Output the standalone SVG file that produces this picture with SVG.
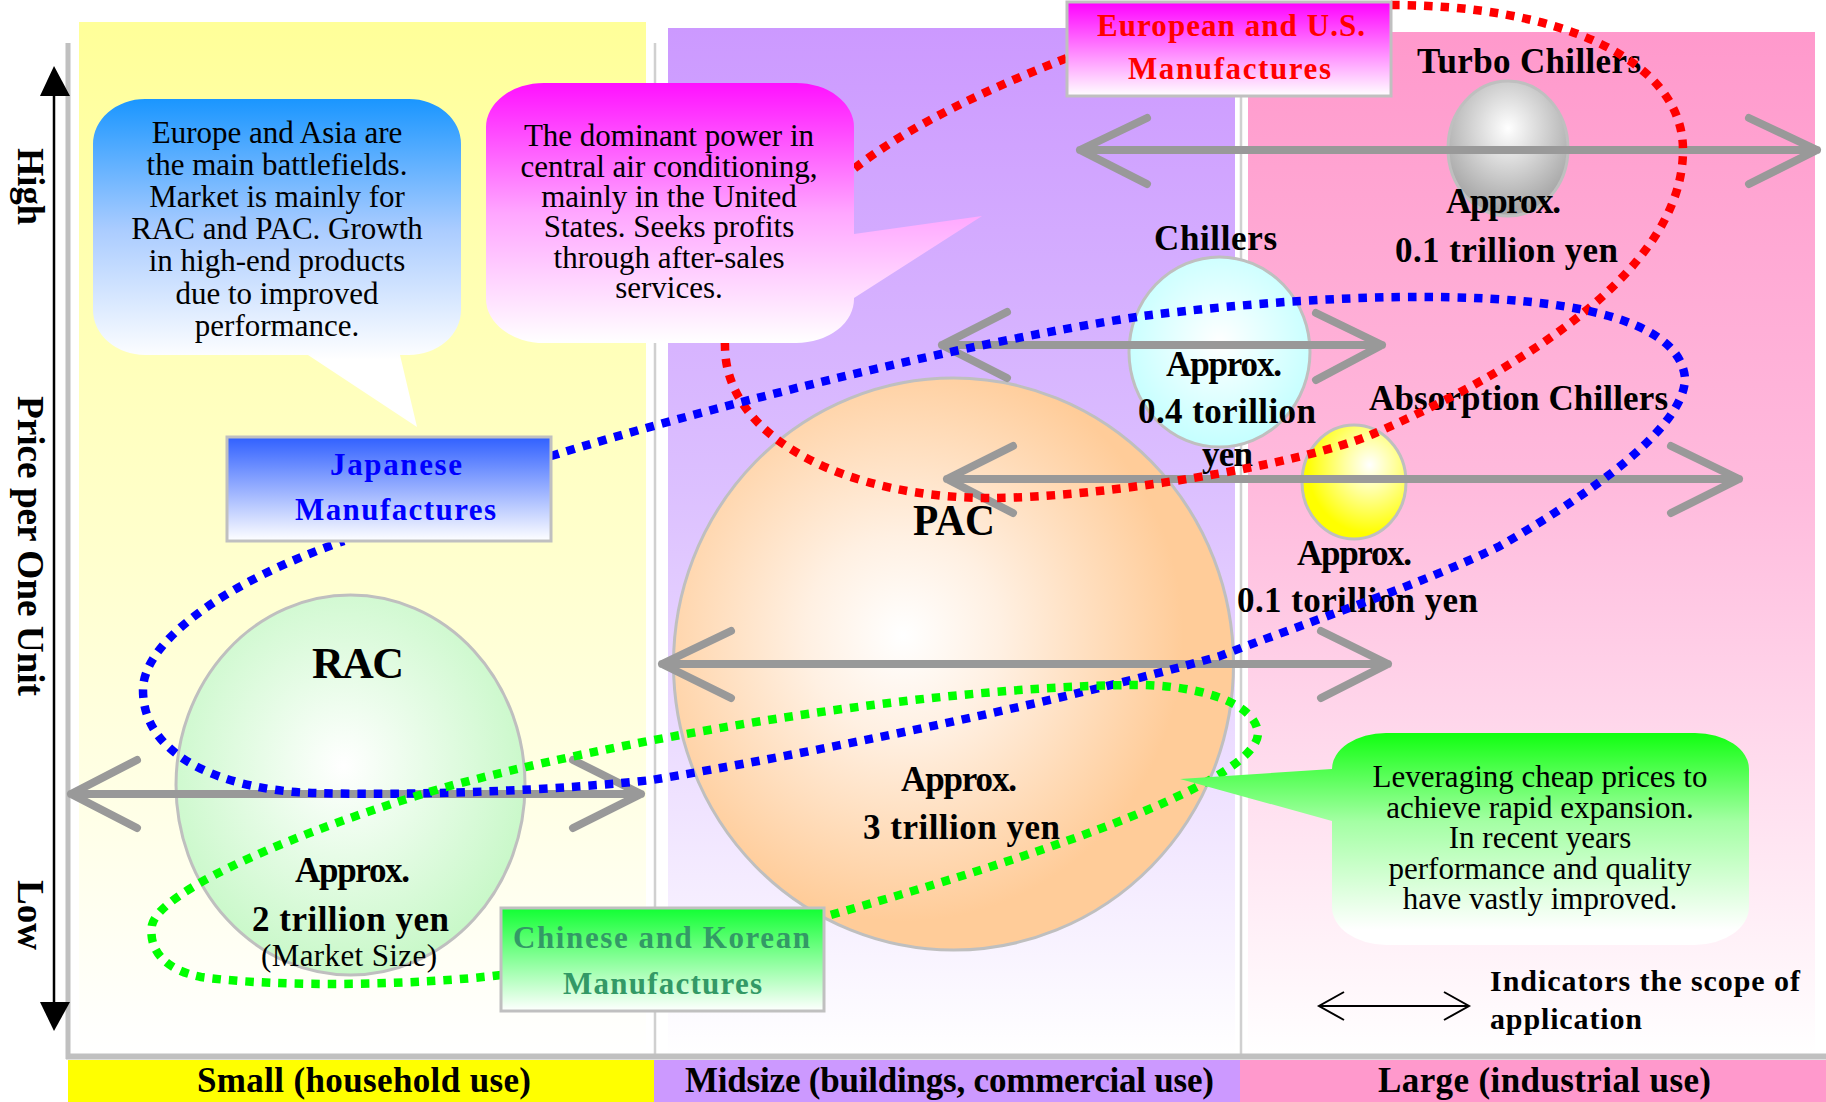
<svg xmlns="http://www.w3.org/2000/svg" width="1826" height="1102" viewBox="0 0 1826 1102">
<defs>
  <linearGradient id="gYel" x1="0" y1="0" x2="0" y2="1"><stop offset="0" stop-color="#ffff99"/><stop offset="1" stop-color="#ffffff"/></linearGradient>
  <linearGradient id="gPur" x1="0" y1="0" x2="0" y2="1"><stop offset="0" stop-color="#cc99ff"/><stop offset="0.45" stop-color="#dcc0ff"/><stop offset="1" stop-color="#ffffff"/></linearGradient>
  <linearGradient id="gPnk" x1="0" y1="0" x2="0" y2="1"><stop offset="0" stop-color="#ff99cc"/><stop offset="0.45" stop-color="#ffbbdd"/><stop offset="1" stop-color="#ffffff"/></linearGradient>
  <linearGradient id="gBlueBub" gradientUnits="userSpaceOnUse" x1="0" y1="99" x2="0" y2="360"><stop offset="0" stop-color="#1a96ff"/><stop offset="0.5" stop-color="#aaccff"/><stop offset="1" stop-color="#ffffff"/></linearGradient>
  <linearGradient id="gMagBub" gradientUnits="userSpaceOnUse" x1="0" y1="83" x2="0" y2="343"><stop offset="0" stop-color="#ff11ff"/><stop offset="0.5" stop-color="#ffa6ff"/><stop offset="1" stop-color="#ffffff"/></linearGradient>
  <linearGradient id="gGrnBub" gradientUnits="userSpaceOnUse" x1="0" y1="733" x2="0" y2="930"><stop offset="0" stop-color="#11ff11"/><stop offset="0.45" stop-color="#a4ffa4"/><stop offset="1" stop-color="#ffffff"/></linearGradient>
  <linearGradient id="gJap" x1="0" y1="0" x2="0" y2="1"><stop offset="0" stop-color="#3060ff"/><stop offset="1" stop-color="#ffffff"/></linearGradient>
  <linearGradient id="gEur" x1="0" y1="0" x2="0" y2="1"><stop offset="0" stop-color="#ff00ff"/><stop offset="1" stop-color="#ffffff"/></linearGradient>
  <linearGradient id="gChn" x1="0" y1="0" x2="0" y2="1"><stop offset="0" stop-color="#11ff33"/><stop offset="1" stop-color="#ffffff"/></linearGradient>
  <radialGradient id="gRAC" cx="0.48" cy="0.45" r="0.55"><stop offset="0" stop-color="#ffffff"/><stop offset="1" stop-color="#c8f8c8"/></radialGradient>
  <radialGradient id="gPAC" cx="0.41" cy="0.45" r="0.5"><stop offset="0" stop-color="#ffffff"/><stop offset="0.35" stop-color="#fff0e2"/><stop offset="1" stop-color="#ffcc99"/></radialGradient>
  <radialGradient id="gChl" cx="0.5" cy="0.45" r="0.55"><stop offset="0" stop-color="#ffffff"/><stop offset="1" stop-color="#c4ffff"/></radialGradient>
  <radialGradient id="gTur" cx="0.5" cy="0.35" r="0.6"><stop offset="0" stop-color="#ffffff"/><stop offset="1" stop-color="#a8a8a8"/></radialGradient>
  <radialGradient id="gAbs" cx="0.65" cy="0.35" r="0.6"><stop offset="0" stop-color="#ffffff"/><stop offset="0.4" stop-color="#ffffa0"/><stop offset="1" stop-color="#ffff00"/></radialGradient>
</defs>
<style>
  text{font-family:"Liberation Serif","Times New Roman",serif;fill:#000}
  .lbl{font-weight:bold;font-size:35px}
  .big{font-weight:bold;font-size:44px}
  .bub{font-size:31px;text-anchor:middle}
  .mt{font-weight:bold;font-size:31px}
  .arr{fill:none;stroke:#999999;stroke-width:8;stroke-linecap:round;stroke-linejoin:round}
  .loop{fill:none;stroke-width:8.5;stroke-dasharray:8.5 8}
  .mbox{stroke:#c0c0c0;stroke-width:3}
  .ell{stroke:#bfbfbf;stroke-width:3}
  .div{stroke:#d0d0d0;stroke-width:2.5}
</style>
<rect width="1826" height="1102" fill="#ffffff"/>
<g id="background">
  <rect x="79" y="22" width="567" height="1033" fill="url(#gYel)"/>
  <rect x="668" y="28" width="567" height="1027" fill="url(#gPur)"/>
  <rect x="1248" y="32" width="567" height="1023" fill="url(#gPnk)"/>
  <line class="div" x1="655" y1="43" x2="655" y2="1054"/>
  <line class="div" x1="1241" y1="43" x2="1241" y2="1054"/>
  <line x1="68" y1="43" x2="68" y2="1059" stroke="#c0c0c0" stroke-width="5"/>
  <line x1="66" y1="1056.5" x2="1826" y2="1056.5" stroke="#c0c0c0" stroke-width="6"/>
  <rect x="68" y="1060" width="586" height="42" fill="#ffff00"/>
  <rect x="654" y="1060" width="586" height="42" fill="#cc99ff"/>
  <rect x="1240" y="1060" width="586" height="42" fill="#ff99cc"/>
  <text class="lbl" x="197" y="1092" textLength="334">Small (household use)</text>
  <text class="lbl" x="685" y="1092" textLength="529">Midsize (buildings, commercial use)</text>
  <text class="lbl" x="1378" y="1092" textLength="333">Large (industrial use)</text>
</g>
<g id="axis">
  <line x1="54" y1="94" x2="54" y2="1004" stroke="#000" stroke-width="2.5"/>
  <polygon points="54,66 40,96 70,96" fill="#000"/>
  <polygon points="54,1031 40,1002 70,1002" fill="#000"/>
  <text style="font-weight:bold;font-size:38px" transform="translate(18,148) rotate(90)" textLength="77" lengthAdjust="spacingAndGlyphs">High</text>
  <text style="font-weight:bold;font-size:38px" transform="translate(18,396) rotate(90)" textLength="300" lengthAdjust="spacingAndGlyphs">Price per One Unit</text>
  <text style="font-weight:bold;font-size:38px" transform="translate(18,880) rotate(90)" textLength="70" lengthAdjust="spacingAndGlyphs">Low</text>
</g>
<g id="rac">
  <ellipse class="ell" cx="350.5" cy="785" rx="174.5" ry="190" fill="url(#gRAC)"/>
</g>
<g id="pac">
  <ellipse class="ell" cx="953.5" cy="664" rx="280" ry="286" fill="url(#gPAC)"/>
</g>
<g id="chillers">
  <ellipse class="ell" cx="1219.5" cy="352" rx="90.5" ry="95" fill="url(#gChl)"/>
</g>
<g id="turbo-chillers">
  <ellipse class="ell" cx="1508" cy="148.5" rx="60" ry="67.5" fill="url(#gTur)"/>
</g>
<g id="absorption-chillers">
  <ellipse class="ell" cx="1354" cy="482" rx="52" ry="57" fill="url(#gAbs)"/>
</g>
<g id="scope-arrows">
  <path class="arr" d="M1080,150 H1817 M1147,118 L1080,150 L1147,184 M1749,118 L1817,150 L1749,184"/>
  <path class="arr" d="M942,345 H1382 M1007,312 L942,345 L1007,378 M1316,313 L1382,345 L1316,380"/>
  <path class="arr" d="M947,479 H1739 M1013,446 L947,479 L1013,513 M1671,446 L1739,479 L1671,513"/>
  <path class="arr" d="M662,664 H1388 M731,631 L662,664 L731,698 M1321,631 L1388,664 L1321,698"/>
  <path class="arr" d="M71,794 H641 M137,760 L71,794 L137,828 M573,760 L641,794 L573,828"/>
</g>
<g id="labels">
  <text class="big" x="312" y="678" textLength="92">RAC</text>
  <text class="lbl" x="295" y="882" textLength="115">Approx.</text>
  <text class="lbl" x="252" y="931" textLength="197">2 trillion yen</text>
  <text x="261" y="966" style="font-size:31px" textLength="176">(Market Size)</text>
  <text class="big" x="913" y="535" textLength="82" lengthAdjust="spacingAndGlyphs">PAC</text>
  <text class="lbl" x="901" y="791" textLength="116">Approx.</text>
  <text class="lbl" x="863" y="839" textLength="197">3 trillion yen</text>
  <text class="lbl" x="1154" y="250" textLength="123">Chillers</text>
  <text class="lbl" x="1166" y="376" textLength="116">Approx.</text>
  <text class="lbl" x="1138" y="423" textLength="178">0.4 torillion</text>
  <text class="lbl" x="1202" y="466" textLength="51">yen</text>
  <text class="lbl" x="1417" y="73" textLength="224">Turbo Chillers</text>
  <text class="lbl" x="1446" y="213" textLength="115">Approx.</text>
  <text class="lbl" x="1395" y="262" textLength="223">0.1 trillion yen</text>
  <text class="lbl" x="1369" y="410" textLength="299">Absorption Chillers</text>
  <text class="lbl" x="1297" y="565" textLength="115">Approx.</text>
  <text class="lbl" x="1237" y="612" textLength="241">0.1 torillion yen</text>
</g>
<g id="connectors">
  <path class="loop" stroke="#ff0000" d="M1391,5 C1560,5 1683,60 1683,150 C1683,270 1520,370 1373,434 C1300,465 1100,498 990,498 C850,498 725,440 725,346 C722,290 790,220 855,168 C910,125 990,88 1067,58"/>
  <path class="loop" stroke="#0000ff" d="M551,456 C700,410 950,345 1143,316 C1350,290 1675,275 1685,378 C1685,430 1580,500 1500,546 C1420,585 1300,625 1220,656 C1050,705 800,755 652,780 C560,790 420,796 312,793 C230,790 143,760 143,690 C143,640 230,580 344,541"/>
  <path class="loop" stroke="#00ff00" d="M501,975 C420,985 280,988 201,977 C165,970 148,950 152,925 C160,890 300,830 446,787 C600,745 900,688 1131,685 C1190,684 1255,700 1258,733 C1258,770 1130,830 827,916"/>
</g>
<g id="bubble-europe-asia">
  <path fill="url(#gBlueBub)" d="M145,99 H409 A52,45 0 0 1 461,144 V310 A52,45 0 0 1 409,355 H400 L417,427 L308,355 H145 A52,45 0 0 1 93,310 V144 A52,45 0 0 1 145,99 Z"/>
  <text class="bub" x="277" y="143">Europe and Asia are</text>
  <text class="bub" x="277" y="175">the main battlefields.</text>
  <text class="bub" x="277" y="207">Market is mainly for</text>
  <text class="bub" x="277" y="239">RAC and PAC. Growth</text>
  <text class="bub" x="277" y="271">in high-end products</text>
  <text class="bub" x="277" y="304">due to improved</text>
  <text class="bub" x="277" y="336">performance.</text>
</g>
<g id="bubble-us">
  <path fill="url(#gMagBub)" d="M544,83 H796 A58,44 0 0 1 854,127 V234 L982,216 L854,298 A58,44 0 0 1 796,343 H544 A58,44 0 0 1 486,299 V127 A58,44 0 0 1 544,83 Z"/>
  <text class="bub" x="669" y="146">The dominant power in</text>
  <text class="bub" x="669" y="177">central air conditioning,</text>
  <text class="bub" x="669" y="207">mainly in the United</text>
  <text class="bub" x="669" y="237">States. Seeks profits</text>
  <text class="bub" x="669" y="268">through after-sales</text>
  <text class="bub" x="669" y="298">services.</text>
</g>
<g id="bubble-china-korea">
  <path fill="url(#gGrnBub)" d="M1386,733 H1695 A54,36 0 0 1 1749,769 V907 A54,38 0 0 1 1695,945 H1386 A54,38 0 0 1 1332,907 V821 L1180,779 L1332,769 A54,36 0 0 1 1386,733 Z"/>
  <text class="bub" x="1540" y="787">Leveraging cheap prices to</text>
  <text class="bub" x="1540" y="818">achieve rapid expansion.</text>
  <text class="bub" x="1540" y="848">In recent years</text>
  <text class="bub" x="1540" y="879">performance and quality</text>
  <text class="bub" x="1540" y="909">have vastly improved.</text>
</g>
<g id="japanese-manufactures">
  <rect class="mbox" x="227" y="437" width="324" height="104" fill="url(#gJap)"/>
  <text class="mt" x="330" y="475" textLength="132" style="fill:#0000ff">Japanese</text>
  <text class="mt" x="295" y="520" textLength="201" style="fill:#0000ff">Manufactures</text>
</g>
<g id="european-us-manufactures">
  <rect class="mbox" x="1067" y="2" width="324" height="94" fill="url(#gEur)"/>
  <text class="mt" x="1097" y="36" textLength="268" style="fill:#ff0000">European and U.S.</text>
  <text class="mt" x="1128" y="79" textLength="203" style="fill:#ff0000">Manufactures</text>
</g>
<g id="chinese-korean-manufactures">
  <rect class="mbox" x="501" y="908" width="323" height="103" fill="url(#gChn)"/>
  <text class="mt" x="513" y="948" textLength="297" style="fill:#339966">Chinese and Korean</text>
  <text class="mt" x="563" y="994" textLength="199" style="fill:#339966">Manufactures</text>
</g>
<g id="legend">
  <path d="M1319,1006 H1469 M1344,992 L1319,1006 L1344,1020 M1444,992 L1469,1006 L1444,1020" fill="none" stroke="#000" stroke-width="2"/>
  <text x="1490" y="991" style="font-weight:bold;font-size:30px" textLength="310">Indicators the scope of</text>
  <text x="1490" y="1029" style="font-weight:bold;font-size:30px" textLength="152">application</text>
</g>
</svg>
